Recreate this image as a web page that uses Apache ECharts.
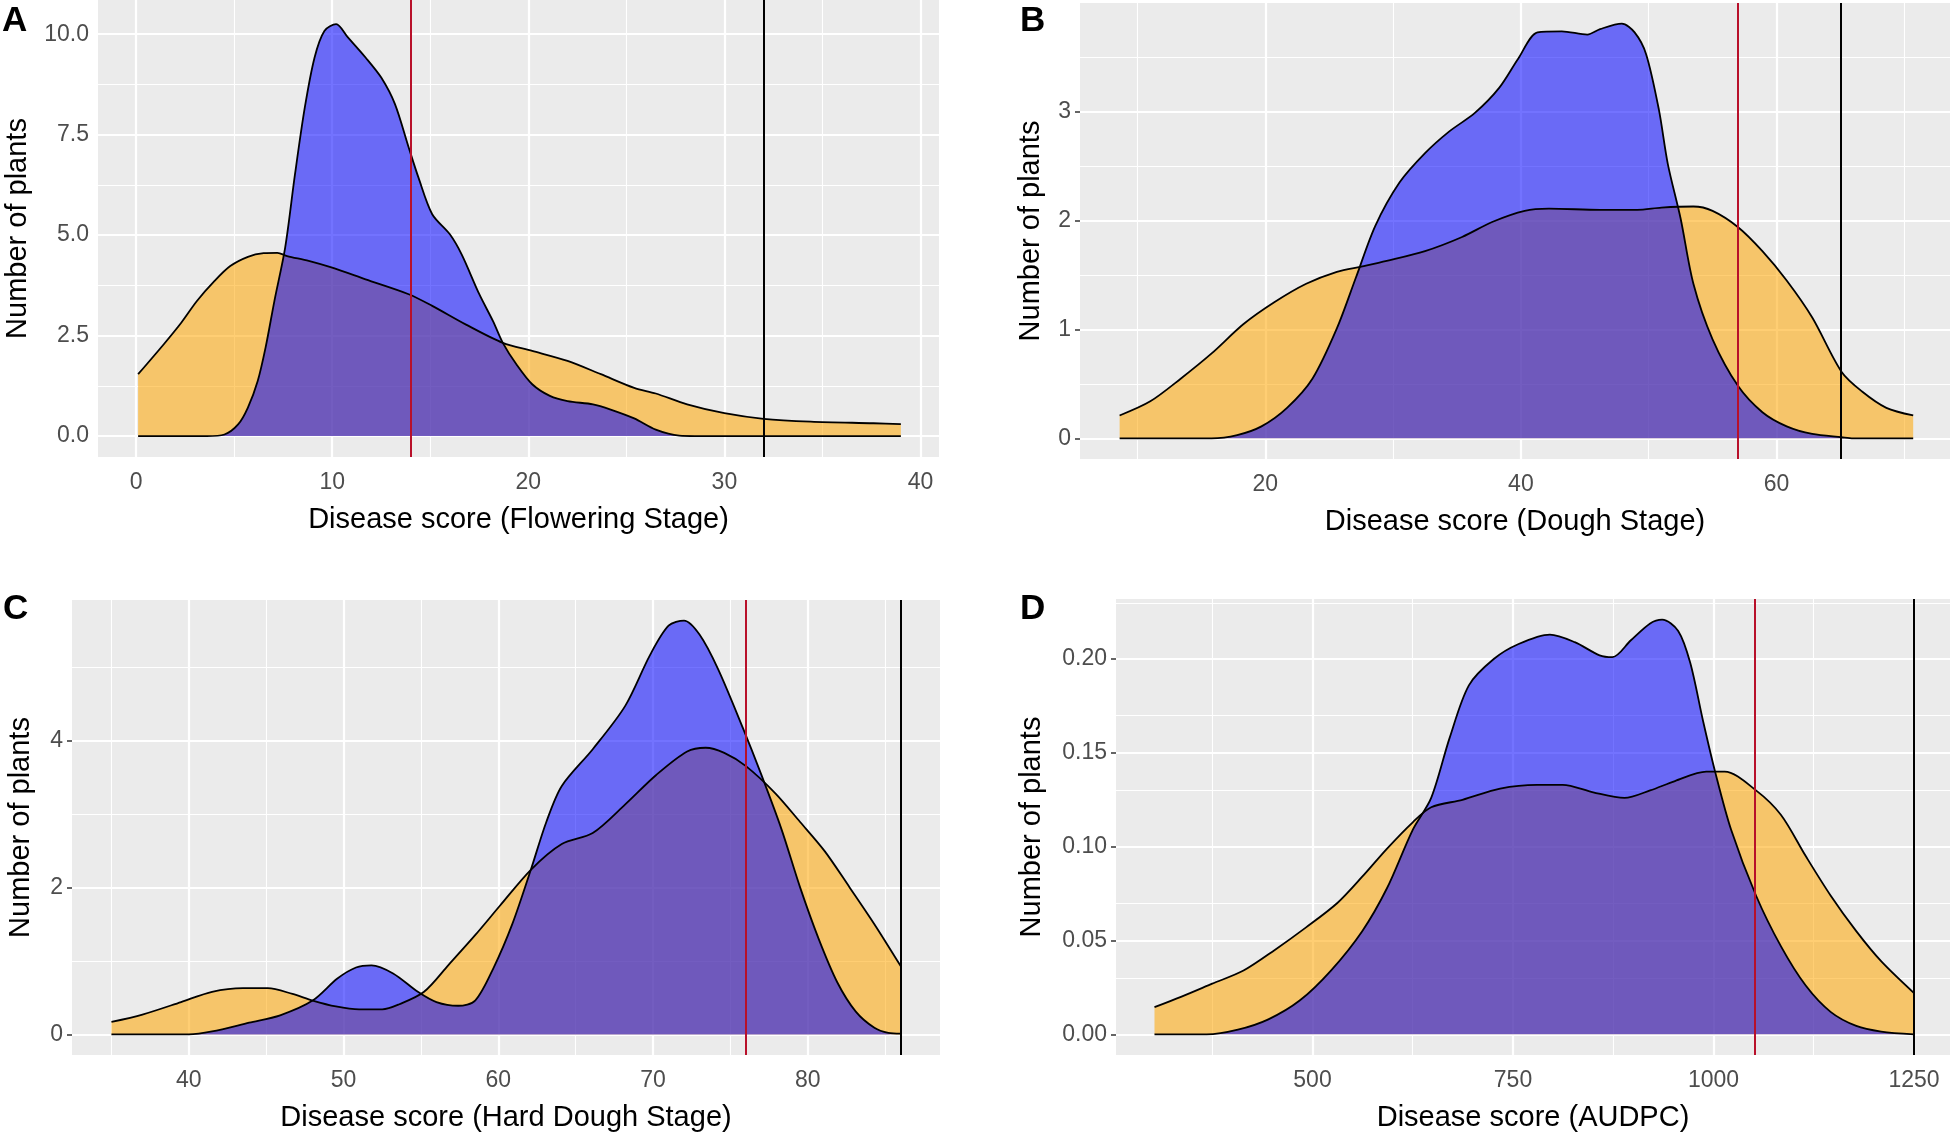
<!DOCTYPE html>
<html>
<head>
<meta charset="utf-8">
<script src="https://cdn.jsdelivr.net/npm/echarts@6/dist/echarts.min.js"></script>
<style>
  html, body { margin: 0; padding: 0; background: #fff; }
  #chart { width: 1950px; height: 1136px; }
</style>
</head>
<body>
<div id="chart"></div>
<script>
// density curves, [score, density]
const floweringOrange = [[0.1,1.54],[1.4,2.28],[2.3,2.82],[3.1,3.36],[4.0,3.86],[4.8,4.23],[5.7,4.46],[6.5,4.55],[7.2,4.56],[7.7,4.48],[8.8,4.36],[10.0,4.19],[11.7,3.9],[13.9,3.53],[15.1,3.24],[16.8,2.78],[18.7,2.32],[20.2,2.12],[22.0,1.87],[23.7,1.54],[25.4,1.2],[26.5,1.06],[28.1,0.79],[30,0.57],[32,0.43],[34.4,0.36],[37.6,0.32],[39,0.3]];
const floweringBlue = [[0.1,0],[3.6,0],[4.5,0.04],[5.2,0.29],[5.7,0.71],[6.2,1.37],[6.6,2.2],[7.05,3.36],[7.6,4.69],[8.1,6.51],[8.6,8.17],[9.1,9.42],[9.6,10.08],[10.2,10.25],[10.8,9.92],[11.7,9.42],[12.5,8.92],[13.2,8.26],[13.9,7.18],[14.4,6.43],[15.1,5.52],[16.0,5.02],[16.6,4.52],[17.5,3.53],[18.2,2.86],[18.7,2.32],[19.4,1.78],[20.2,1.29],[21.1,1.0],[22.0,0.87],[23.3,0.79],[24.2,0.66],[25.4,0.44],[26.5,0.16],[27.7,0.01],[28.5,0],[39,0]];

const doughOrange = [[8.6,0.21],[11,0.34],[13.4,0.55],[15.8,0.78],[18.3,1.05],[20.7,1.25],[23.2,1.42],[25.6,1.53],[27.6,1.58],[29.5,1.63],[32.5,1.72],[35.4,1.85],[37.8,1.99],[40.3,2.09],[42.2,2.11],[46.2,2.10],[49.1,2.10],[51,2.12],[53.5,2.13],[55,2.09],[57,1.94],[58.9,1.72],[60.8,1.45],[62.8,1.11],[65.1,0.61],[66.7,0.43],[68.6,0.28],[70.7,0.21]];
const doughBlue = [[8.6,0],[15.8,0],[17.8,0.03],[19.7,0.11],[21.7,0.28],[23.7,0.55],[25.6,1.01],[27.1,1.48],[28.6,1.95],[30.5,2.35],[32.5,2.62],[34.4,2.82],[36.4,2.99],[38.3,3.22],[39.8,3.49],[41.3,3.73],[43.2,3.74],[45.2,3.71],[46.2,3.76],[47.9,3.81],[48.9,3.73],[49.8,3.53],[50.8,3.02],[51.5,2.52],[52.5,2.02],[53.5,1.42],[55,0.91],[57,0.48],[58.9,0.24],[60.8,0.11],[62.8,0.04],[65.1,0.01],[66,0],[70.7,0]];

const hardOrange = [[35,0.17],[37,0.27],[39.5,0.44],[41.5,0.58],[43.5,0.63],[45.1,0.63],[46.7,0.55],[48,0.46],[49.5,0.38],[51,0.34],[52.5,0.34],[53.6,0.41],[55.2,0.58],[56.8,0.95],[58.5,1.35],[60.1,1.75],[62.1,2.24],[64.1,2.59],[66.1,2.74],[68.2,3.13],[70.2,3.53],[72.2,3.85],[73.4,3.9],[74.6,3.83],[76,3.65],[77.9,3.28],[79.5,2.89],[81.1,2.49],[82.7,2.0],[84.3,1.5],[86,0.93]];
const hardBlue = [[35,0],[40,0],[41.5,0.04],[43.9,0.16],[45.9,0.26],[48,0.46],[49.6,0.76],[50.8,0.91],[51.8,0.94],[53.2,0.83],[54.8,0.58],[56,0.44],[57.4,0.39],[58.5,0.46],[59.7,0.91],[60.9,1.5],[62.1,2.24],[63.1,2.89],[64.1,3.38],[66.1,3.88],[68.2,4.47],[69.8,5.16],[71,5.56],[72,5.63],[73,5.44],[74.2,4.97],[75.8,4.17],[77,3.53],[78.3,2.79],[79.5,2.0],[80.7,1.3],[81.9,0.71],[83.1,0.31],[84.3,0.09],[85.2,0.02],[86,0.01]];

const audpcOrange = [[303,0.0145],[336,0.020],[375,0.027],[414,0.034],[453,0.045],[492,0.057],[531,0.070],[562,0.084],[593,0.099],[625,0.113],[648,0.121],[687,0.125],[734,0.131],[780,0.133],[812,0.133],[850,0.129],[889,0.126],[921,0.130],[952,0.135],[991,0.140],[1014,0.140],[1053,0.130],[1084,0.117],[1115,0.095],[1146,0.074],[1178,0.055],[1209,0.039],[1250,0.022]];
const audpcBlue = [[303,0],[368,0],[407,0.0025],[445,0.008],[484,0.018],[523,0.034],[562,0.055],[593,0.078],[625,0.109],[648,0.126],[671,0.158],[695,0.186],[726,0.200],[757,0.208],[796,0.213],[827,0.209],[858,0.202],[874,0.201],[897,0.210],[921,0.219],[936,0.221],[956,0.215],[971,0.198],[987,0.167],[1002,0.140],[1022,0.109],[1053,0.074],[1084,0.047],[1115,0.026],[1146,0.012],[1178,0.0045],[1209,0.0015],[1250,0]];

// vertical reference lines [red, black]
const floweringLines = [14, 32];
const doughLines = [57, 65];
const hardLines = [76, 86];
const audpcLines = [1051, 1250];

// tick values
const floweringXTicks = [0, 10, 20, 30, 40];
const floweringXMinor = [5, 15, 25, 35];
const floweringYTicks = [0, 2.5, 5, 7.5, 10];
const floweringYMinor = [1.25, 3.75, 6.25, 8.75];
const doughXTicks = [20, 40, 60];
const doughXMinor = [10, 30, 50, 70];
const doughYTicks = [0, 1, 2, 3];
const doughYMinor = [0.5, 1.5, 2.5, 3.5];
const hardXTicks = [40, 50, 60, 70, 80];
const hardXMinor = [35, 45, 55, 65, 75, 85];
const hardYTicks = [0, 2, 4];
const hardYMinor = [1, 3, 5];
const audpcXTicks = [500, 750, 1000, 1250];
const audpcXMinor = [375, 625, 875, 1125];
const audpcYTicks = [0, 0.05, 0.1, 0.15, 0.2];
const audpcYMinor = [0.025, 0.075, 0.125, 0.175, 0.225];

const FONT = '"Liberation Sans", Arial, sans-serif';

const panels = [
    {letter: 'A', lx: 2, ly: 4, xName: 'Disease score (Flowering Stage)',
     grid: {left: 98, top: 0, width: 841, height: 457}, xr: [-1.945, 40.945], yr: [-0.52, 10.85], yGap: 66, yDigits: 1,
     xt: floweringXTicks, xm: floweringXMinor, yt: floweringYTicks, ym: floweringYMinor,
     orange: floweringOrange, blue: floweringBlue, lines: floweringLines},
    {letter: 'B', lx: 1020, ly: 4, xName: 'Disease score (Dough Stage)',
     grid: {left: 1080, top: 3, width: 870, height: 456}, xr: [5.5, 73.58], yr: [-0.19, 4.0], yGap: 35, yDigits: 0,
     xt: doughXTicks, xm: doughXMinor, yt: doughYTicks, ym: doughYMinor,
     orange: doughOrange, blue: doughBlue, lines: doughLines},
    {letter: 'C', lx: 3, ly: 592, xName: 'Disease score (Hard Dough Stage)',
     grid: {left: 72, top: 600, width: 868, height: 455}, xr: [32.45, 88.54], yr: [-0.28, 5.91], yGap: 37, yDigits: 0,
     xt: hardXTicks, xm: hardXMinor, yt: hardYTicks, ym: hardYMinor,
     orange: hardOrange, blue: hardBlue, lines: hardLines},
    {letter: 'D', lx: 1020, ly: 592, xName: 'Disease score (AUDPC)',
     grid: {left: 1116, top: 599, width: 834, height: 456}, xr: [255, 1294.9], yr: [-0.011, 0.232], yGap: 70, yDigits: 2,
     xt: audpcXTicks, xm: audpcXMinor, yt: audpcYTicks, ym: audpcYMinor,
     orange: audpcOrange, blue: audpcBlue, lines: audpcLines}
];

const chart = echarts.init(document.getElementById('chart'));

const grid = [], xAxis = [], yAxis = [], series = [], graphic = [];

panels.forEach((p, i) => {
    grid.push(Object.assign({show: true, backgroundColor: '#EBEBEB', borderWidth: 0}, p.grid));

    const tick = {show: true, length: 5, lineStyle: {color: '#333', width: 1.5}};
    const label = {color: '#4D4D4D', fontSize: 23, fontFamily: FONT};
    const title = {color: '#000', fontSize: 29, fontFamily: FONT};

    xAxis.push({
        type: 'value', gridIndex: i, min: p.xr[0], max: p.xr[1],
        axisLine: {show: false},
        axisTick: Object.assign({customValues: p.xt}, tick),
        axisLabel: Object.assign({customValues: p.xt, margin: 14, formatter: v => String(v)}, label),
        splitLine: {show: false},
        name: p.xName, nameLocation: 'middle', nameGap: 48, nameTextStyle: title
    });
    yAxis.push({
        type: 'value', gridIndex: i, min: p.yr[0], max: p.yr[1],
        axisLine: {show: false},
        axisTick: Object.assign({customValues: p.yt}, tick),
        axisLabel: Object.assign({customValues: p.yt, margin: 9,
            formatter: v => Number(v).toFixed(p.yDigits)}, label),
        splitLine: {show: false},
        name: 'Number of plants', nameLocation: 'middle', nameGap: p.yGap, nameTextStyle: title
    });

    // background grid lines (ggplot style)
    const gl = [];
    p.xt.forEach(v => gl.push({xAxis: v, lineStyle: {width: 2.2}}));
    p.xm.forEach(v => gl.push({xAxis: v, lineStyle: {width: 1.1}}));
    p.yt.forEach(v => gl.push({yAxis: v, lineStyle: {width: 2.2}}));
    p.ym.forEach(v => gl.push({yAxis: v, lineStyle: {width: 1.1}}));
    series.push({
        type: 'line', xAxisIndex: i, yAxisIndex: i, data: [], z: 1,
        markLine: {silent: true, symbol: 'none', z: 1, animation: false,
            label: {show: false}, lineStyle: {color: '#fff', type: 'solid'}, data: gl}
    });

    [[p.orange, 'rgba(255,165,0,0.55)'], [p.blue, 'rgba(0,0,255,0.55)']].forEach(([d, c]) => {
        series.push({
            type: 'line', xAxisIndex: i, yAxisIndex: i, data: d, z: 2,
            smooth: 0.3, symbol: 'none', silent: true,
            lineStyle: {color: '#000', width: 1.8},
            areaStyle: {color: c, opacity: 1}
        });
    });

    series.push({
        type: 'line', xAxisIndex: i, yAxisIndex: i, data: [], z: 5,
        markLine: {silent: true, symbol: 'none', z: 5, animation: false, label: {show: false},
            data: [
                {xAxis: p.lines[0], lineStyle: {color: '#B8102A', width: 2, type: 'solid'}},
                {xAxis: p.lines[1], lineStyle: {color: '#000', width: 2, type: 'solid'}}
            ]}
    });

    graphic.push({type: 'text', left: p.lx, top: p.ly,
        style: {text: p.letter, font: 'bold 35px ' + FONT, fill: '#000'}});
});

chart.setOption({
    animation: false,
    backgroundColor: '#fff',
    grid, xAxis, yAxis, series, graphic
});
</script>
</body>
</html>
